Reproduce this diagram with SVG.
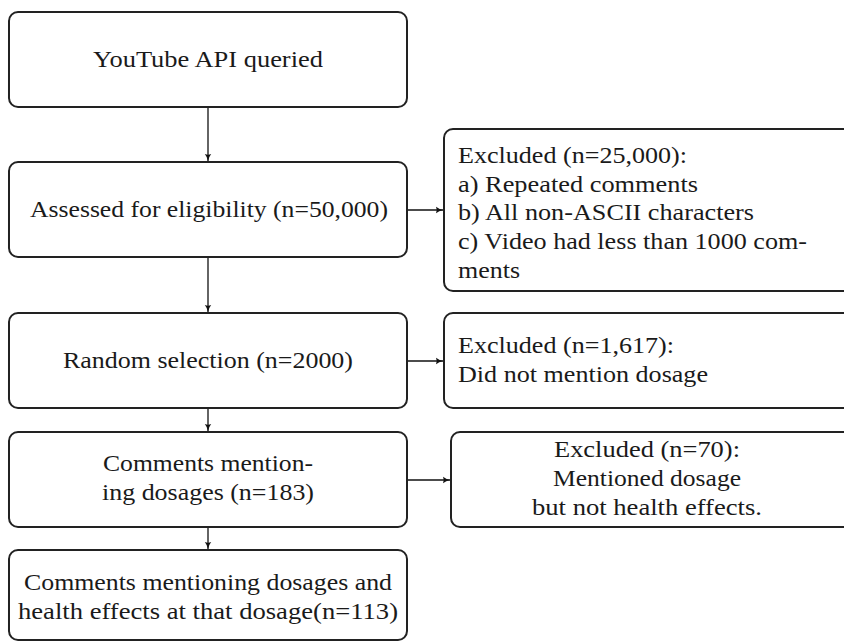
<svg xmlns="http://www.w3.org/2000/svg" width="844" height="642" viewBox="0 0 844 642">
<style>
.box{fill:#fff;stroke:#222;stroke-width:2}
.t{font-family:"Liberation Serif","DejaVu Serif",serif;font-size:24px;fill:#1a1a1a}
.c{text-anchor:middle}
.conn{stroke:#111;stroke-width:1.3;fill:none}
</style>
<defs>
<marker id="ah" markerWidth="8" markerHeight="8" refX="7" refY="4" orient="auto" markerUnits="userSpaceOnUse">
<path d="M0,0.8 Q3,3.2 7,4 Q3,4.8 0,7.2 Q1.5,4 0,0.8 Z" fill="#111"/>
</marker>
</defs>
<rect width="844" height="642" fill="#fff"/>
<g id="n1">
<rect class="box" x="9" y="12" width="398" height="95" rx="9"/>
<text class="t c" x="208" y="67" textLength="230" lengthAdjust="spacingAndGlyphs">YouTube API queried</text>
</g>
<g id="n2">
<rect class="box" x="9" y="162" width="398" height="95" rx="9"/>
<text class="t c" x="209" y="217" textLength="358" lengthAdjust="spacingAndGlyphs">Assessed for eligibility (n=50,000)</text>
</g>
<g id="n3">
<rect class="box" x="9" y="313" width="398" height="95" rx="9"/>
<text class="t c" x="208" y="368" textLength="290" lengthAdjust="spacingAndGlyphs">Random selection (n=2000)</text>
</g>
<g id="n4">
<rect class="box" x="9" y="432" width="398" height="95" rx="9"/>
<text class="t c" x="208" y="471" textLength="210" lengthAdjust="spacingAndGlyphs">Comments mention-</text>
<text class="t c" x="208" y="500" textLength="212" lengthAdjust="spacingAndGlyphs">ing dosages (n=183)</text>
</g>
<g id="n5">
<rect class="box" x="9" y="550" width="398" height="90" rx="9"/>
<text class="t c" x="208" y="590" textLength="368" lengthAdjust="spacingAndGlyphs">Comments mentioning dosages and</text>
<text class="t c" x="208" y="619" textLength="380" lengthAdjust="spacingAndGlyphs">health effects at that dosage(n=113)</text>
</g>
<g id="e1">
<rect class="box" x="444" y="129" width="410" height="162" rx="9"/>
<text class="t" x="458" y="163" textLength="229" lengthAdjust="spacingAndGlyphs">Excluded (n=25,000):</text>
<text class="t" x="458" y="192" textLength="240" lengthAdjust="spacingAndGlyphs">a) Repeated comments</text>
<text class="t" x="458" y="220" textLength="296" lengthAdjust="spacingAndGlyphs">b) All non-ASCII characters</text>
<text class="t" x="458" y="249" textLength="349" lengthAdjust="spacingAndGlyphs">c) Video had less than 1000 com-</text>
<text class="t" x="458" y="278" textLength="62" lengthAdjust="spacingAndGlyphs">ments</text>
</g>
<g id="e2">
<rect class="box" x="444" y="313" width="410" height="95" rx="9"/>
<text class="t" x="458" y="353" textLength="216" lengthAdjust="spacingAndGlyphs">Excluded (n=1,617):</text>
<text class="t" x="458" y="382" textLength="250" lengthAdjust="spacingAndGlyphs">Did not mention dosage</text>
</g>
<g id="e3">
<rect class="box" x="451" y="432" width="403" height="95" rx="9"/>
<text class="t c" x="647" y="457" textLength="186" lengthAdjust="spacingAndGlyphs">Excluded (n=70):</text>
<text class="t c" x="647" y="486" textLength="188" lengthAdjust="spacingAndGlyphs">Mentioned dosage</text>
<text class="t c" x="647" y="515" textLength="230" lengthAdjust="spacingAndGlyphs">but not health effects.</text>
</g>
<g id="connectors">
<line class="conn" x1="208" y1="108" x2="208" y2="161" marker-end="url(#ah)"/>
<line class="conn" x1="208" y1="258" x2="208" y2="312" marker-end="url(#ah)"/>
<line class="conn" x1="208" y1="409" x2="208" y2="431" marker-end="url(#ah)"/>
<line class="conn" x1="208" y1="528" x2="208" y2="549" marker-end="url(#ah)"/>
<line class="conn" x1="408" y1="210" x2="443" y2="210" marker-end="url(#ah)"/>
<line class="conn" x1="408" y1="361" x2="443" y2="361" marker-end="url(#ah)"/>
<line class="conn" x1="408" y1="480" x2="450" y2="480" marker-end="url(#ah)"/>
</g>
</svg>
